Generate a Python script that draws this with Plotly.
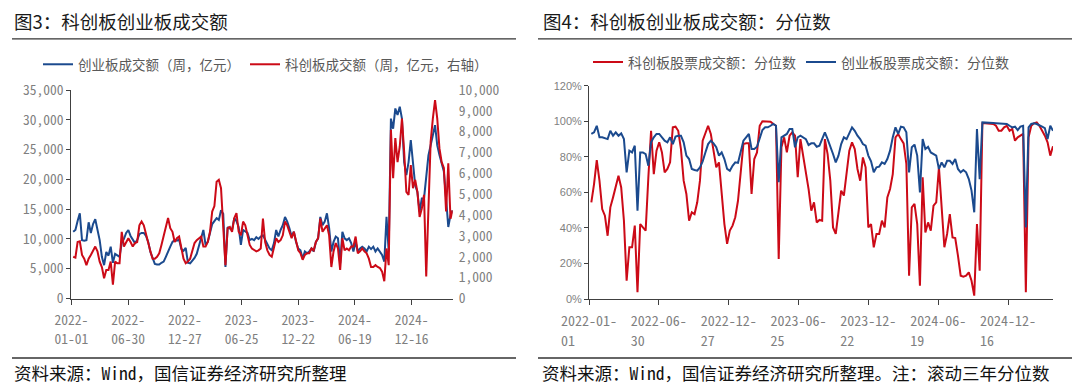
import pandas as pd
import plotly.graph_objects as go

# The page body has an 8px margin: the figure is sized to fit the 1080x392 window
OX, OY = 8, 8
W, H = 1080 - OX, 392 - OY

# ---------------- data ----------------
weeks = pd.date_range("2022-01-07", periods=173, freq="7D")

# 创业板成交额（周，亿元）
gem_turnover = [
    11200, 11500, 13000, 14300, 9800, 9700, 9800, 12800, 11000, 12500,
    13300, 11500, 9800, 7000, 5600, 7800, 7200, 8700, 6000, 7500,
    7300, 7000, 9300, 10000, 11000, 11500, 10500, 9800, 9300, 9800,
    10800, 11000, 11000, 10500, 9500, 7800, 6800, 5800, 5700, 5700,
    6000, 6200, 7000, 8000, 8700, 9500, 9800, 9700, 9900, 8300,
    8000, 8500, 6000, 5900, 6300, 6800, 7500, 9000, 10500, 11500,
    9000, 9500, 11000, 12500, 13000, 13500, 13200, 14800, 14200, 5300,
    12000, 11800, 11500, 13500, 13000, 12000, 9000, 11500, 11200, 11000,
    9800, 10000, 9800, 10300, 10000, 10400, 10600, 9800, 9000, 8400,
    8100, 9300, 11500, 10400, 11500, 12300, 13700, 12900, 11800, 10400,
    11200, 9500, 8400, 8100, 6700, 7900, 7600, 7900, 8400, 7900,
    9500, 10100, 13700, 12300, 12900, 14300, 11800, 7900, 9500, 10400,
    10100, 5900, 11200, 10100, 9800, 10100, 9300, 7900, 9500, 7900,
    8400, 8700, 8400, 7900, 8700, 8300, 8700, 7900, 8400, 7900,
    7300, 6200, 13700, 7900, 30200, 28500, 31900, 30800, 32200, 30200,
    22900, 20700, 22900, 26600, 22400, 19000, 17900, 14600, 16800, 16800,
    None, 24000, 25500, 27400, 29100, 25700, 24100, 22900, 21300, 16800,
    12000, 14000, 14800,
]

# 科创板成交额（周，亿元，右轴）
star_turnover = [
    2000, 1960, 2710, 2740, 2090, 1910, 1600, 1910, 2090, 2260,
    2490, 2260, 1770, 1510, 970, 1370, 1370, 1770, 660, 1770,
    1690, 1690, 3200, 2490, 2710, 2890, 2710, 2490, 2660, 2710,
    3510, 3690, 3510, 3110, 2570, 2260, 1910, 1910, 2000, 2170,
    2570, 3030, 3370, 3860, 3370, 3200, 2710, 2890, 2970, 2400,
    1910, 1690, 1770, 1910, 2260, 2660, 2800, 2890, 2970, 2490,
    2490, 2710, 3200, 4170, 4430, 5600, 5690, 5290, 3510, 1600,
    3370, 3430, 3200, 3860, 4090, 3200, 3030, 3690, 3510, 3110,
    2570, 2400, 2310, 2260, 2310, 2400, 3830, 2710, 2310, 2090,
    2000, 2400, 2890, 2710, 2800, 3030, 3690, 3510, 3200, 2890,
    3200, 2710, 2310, 2170, 1860, 2090, 2170, 2170, 2400, 2310,
    2710, 2890, 3830, 3200, 3370, 3510, 3030, 1510, 2260, 2660,
    2400, 1370, 2890, 2310, 2400, 2310, 2490, 2490, 2970, 2170,
    2260, 2400, 2260, 2170, 1910, 1510, 1510, 1600, 1510, 1460,
    1290, 830, 2400, 1600, 8090, 5770, 7690, 6540, 7290, 8630,
    7030, 5110, 4970, 6400, 5290, 5690, 5110, 3910, 4310, 4970,
    1060, 4630, 7510, 8630, 9510, 8630, 7200, 6540, 6260, 4170,
    6490, 3830, 4230,
]

# 科创板股票成交额：分位数 (%)
star_pct = [
    54.4, 64.7, 78.2, 66.6, 50.6, 46.9, 35.6, 51.6, 57.2, 62.8,
    69.4, 62.8, 44.1, 10.3, 29.1, 29.1, 41.3, 3.8, 42.2, 40.3,
    38.5, 68.5, 94.7, 70.3, 83.5, 88.2, 82.5, 71.3, 73.2, 76.9,
    96.6, 97.0, 94.7, 84.4, 66.6, 59.1, 44.1, 48.8, 47.8, 54.4,
    66.6, 89.1, 92.9, 97.5, 92.9, 83.5, 74.1, 76.9, 59.1, 42.2,
    31.0, 38.5, 41.3, 46.0, 55.3, 73.2, 87.2, 87.6, 87.6, 59.1,
    78.8, 82.5, 97.5, 100.0, 100.0, 100.0, 99.8, 98.5, 97.5, 22.5,
    85.4, 91.0, 82.5, 91.9, 93.8, 91.9, 68.5, 90.0, 80.7, 72.2,
    61.9, 49.7, 54.4, 43.1, 44.5, 44.1, 90.0, 81.6, 66.6, 40.3,
    36.6, 48.8, 61.0, 58.2, 72.2, 83.5, 88.2, 84.4, 73.2, 66.6,
    79.7, 74.1, 40.3, 42.2, 29.1, 36.6, 36.6, 44.1, 40.3, 57.2,
    61.9, 70.3, 91.0, 92.9, 90.0, 87.6, 76.0, 13.1, 51.6, 53.5,
    42.2, 7.5, 68.5, 37.5, 43.1, 38.5, 52.5, 54.4, 74.1, 49.7,
    29.1, 36.6, 47.8, 34.7, 34.3, 24.4, 13.1, 12.6, 13.1, 15.0,
    10.3, 1.9, 42.2, 15.9, 98.9, 98.9, 98.9, 98.5, 98.5, 97.5,
    94.7, 94.7, 96.6, 97.5, 94.7, 95.7, 89.1, 91.0, 91.9, 92.9,
    3.8, 91.0, 97.5, 98.9, 99.4, 97.5, 94.7, 91.9, 88.2, 80.7,
    86.0,
]

# 创业板股票成交额：分位数 (%)
gem_pct = [
    92.9, 93.8, 97.5, 91.0, 91.0, 90.6, 90.0, 94.7, 91.9, 93.8,
    91.9, 93.2, 90.0, 71.3, 83.5, 82.5, 86.3, 49.7, 82.5, 82.5,
    81.6, 75.0, 88.2, 91.0, 92.9, 92.9, 91.0, 89.1, 88.2, 91.0,
    87.2, 91.4, 91.9, 91.9, 88.2, 80.7, 78.8, 73.2, 72.6, 72.2,
    74.1, 77.5, 82.5, 87.2, 89.1, 87.6, 85.4, 80.7, 82.5, 78.8,
    73.2, 72.2, 75.0, 76.9, 76.6, 83.0, 89.1, 91.0, 92.9, 84.4,
    84.4, 85.7, 90.0, 95.1, 96.6, 96.6, 97.5, 98.5, 97.5, 65.7,
    91.0, 91.9, 92.9, 95.7, 95.7, 85.4, 91.0, 91.9, 91.0, 90.0,
    86.7, 87.6, 87.6, 85.7, 86.3, 90.0, 93.8, 90.0, 86.3, 81.6,
    76.9, 80.7, 87.2, 91.0, 90.0, 93.8, 96.6, 94.7, 91.9, 90.0,
    87.2, 86.3, 80.7, 77.5, 71.3, 74.1, 74.5, 76.9, 76.0, 78.8,
    83.5, 91.0, 96.6, 92.9, 97.0, 96.6, 93.8, 71.3, 85.4, 86.9,
    80.7, 60.0, 90.0, 84.4, 85.7, 82.5, 81.6, 80.7, 73.2, 76.9,
    74.1, 77.8, 77.8, 76.0, 78.8, 73.2, 71.3, 72.6, 71.3, 67.5,
    61.0, 48.8, 95.7, 67.5, 99.4, 99.4, 99.2, 99.0, 99.0, 98.9,
    98.9, 98.9, 98.7, 98.5, 97.5, 96.6, 97.0, 95.1, 97.0, 97.5,
    40.3, 96.6, 98.5, 98.9, 98.5, 97.5, 97.0, 96.2, 90.0, 97.5,
    94.7,
]
pct_weeks = weeks[:len(star_pct)]

tick_dates = ["2022-01-01", "2022-06-30", "2022-12-27", "2023-06-25",
              "2023-12-22", "2024-06-19", "2024-12-16"]
# two-line tick labels: first line / second line
left_tick_line1 = ["2022-", "2022-", "2022-", "2023-", "2023-", "2024-", "2024-"]
left_tick_line2 = ["01-01", "06-30", "12-27", "06-25", "12-22", "06-19", "12-16"]
right_tick_line1 = ["2022-01-", "2022-06-", "2022-12-", "2023-06-", "2023-12-", "2024-06-", "2024-12-"]
right_tick_line2 = ["01", "30", "27", "25", "22", "19", "16"]
NB = "\u00a0"
right_tick_line2 = [t + NB * 6 for t in right_tick_line2]  # left-aligned under line 1

BLUE = "#1b4a8e"
RED = "#cc0a17"
AX = "#404040"
TICK = "#7f7f7f"
MONO = "Noto Sans Mono CJK SC, Noto Sans CJK SC, Liberation Mono, monospace"
CJK = "Noto Sans CJK SC, sans-serif"


def fx(px):
    """window pixel x -> paper fraction"""
    return (px - OX) / W


def fy(py):
    """window pixel y (from top) -> paper fraction"""
    return 1 - (py - OY) / H


fig = go.Figure()
fig.add_trace(go.Scatter(x=weeks, y=gem_turnover, name="创业板成交额（周，亿元）",
                         mode="lines", line=dict(color=BLUE, width=2), connectgaps=True,
                         xaxis="x", yaxis="y", legend="legend"))
fig.add_trace(go.Scatter(x=weeks, y=star_turnover, name="科创板成交额（周，亿元，右轴）",
                         mode="lines", line=dict(color=RED, width=2),
                         xaxis="x", yaxis="y2", legend="legend"))
fig.add_trace(go.Scatter(x=pct_weeks, y=star_pct, name="科创板股票成交额：分位数",
                         mode="lines", line=dict(color=RED, width=2),
                         xaxis="x2", yaxis="y3", legend="legend2"))
fig.add_trace(go.Scatter(x=pct_weeks, y=gem_pct, name="创业板股票成交额：分位数",
                         mode="lines", line=dict(color=BLUE, width=2),
                         xaxis="x2", yaxis="y3", legend="legend2"))

common_x = dict(type="date", showgrid=False, zeroline=False, showline=True, automargin=False,
                linecolor=AX, linewidth=1, ticks="outside", ticklen=5, tickcolor=AX,
                tickmode="array", tickvals=tick_dates)
second_line_x = dict(type="date", showgrid=False, zeroline=False, showline=False,
                     automargin=False, ticks="", side="bottom",
                     tickmode="array", tickvals=tick_dates)

LEFT_RANGE = ["2022-01-01", "2025-04-25"]
RIGHT_RANGE = ["2022-01-01", "2025-04-11"]

fig.update_layout(
    template="none",
    width=W, height=H,
    margin=dict(l=0, r=0, t=0, b=0, pad=0, autoexpand=False),
    paper_bgcolor="white", plot_bgcolor="white",
    xaxis=dict(common_x, domain=[fx(71.3), fx(452.7)], anchor="y",
               range=LEFT_RANGE, ticktext=left_tick_line1, ticklabelstandoff=4,
               tickfont=dict(family=MONO, size=13.5, color=TICK)),
    xaxis3=dict(second_line_x, overlaying="x", anchor="y", range=LEFT_RANGE,
                ticktext=left_tick_line2, ticklabelstandoff=31,
                tickfont=dict(family=MONO, size=13.5, color=TICK)),
    yaxis=dict(domain=[fy(298.5), fy(90)], range=[0, 35000], dtick=5000, tickformat=",",
               showgrid=False, zeroline=False, showline=True, linecolor=AX, linewidth=1,
               ticks="outside", ticklen=4, tickcolor=AX, anchor="x", automargin=False,
               tickfont=dict(family=MONO, size=13.5, color=TICK)),
    yaxis2=dict(overlaying="y", side="right", anchor="x", range=[0, 10000], dtick=1000,
                tickformat=",", showgrid=False, zeroline=False, showline=False, ticks="",
                ticklabelstandoff=5, automargin=False,
                tickfont=dict(family=MONO, size=13.5, color=TICK)),
    xaxis2=dict(common_x, domain=[fx(589), fx(1053)], anchor="y3",
                range=RIGHT_RANGE, ticktext=right_tick_line1, ticklabelstandoff=4,
                tickfont=dict(family=MONO, size=14, color=TICK)),
    xaxis4=dict(second_line_x, overlaying="x2", anchor="y3", range=RIGHT_RANGE,
                ticktext=right_tick_line2, ticklabelstandoff=32,
                tickfont=dict(family=MONO, size=14, color=TICK)),
    yaxis3=dict(domain=[fy(299), fy(85.8)], anchor="x2", range=[0, 120], dtick=20,
                ticksuffix="%", showgrid=False, zeroline=False, showline=True, automargin=False,
                linecolor=AX, linewidth=1, ticks="outside", ticklen=4, tickcolor=AX,
                tickfont=dict(family="Liberation Sans, Arial, sans-serif", size=11, color=TICK)),
    legend=dict(orientation="h", x=fx(38), y=fy(64.5), xanchor="left", yanchor="middle",
                bgcolor="rgba(0,0,0,0)", font=dict(family=CJK, size=13.5, color="#595959"),
                itemwidth=30, tracegroupgap=0),
    legend2=dict(orientation="h", x=fx(588), y=fy(62.5), xanchor="left", yanchor="middle",
                 bgcolor="rgba(0,0,0,0)", font=dict(family=CJK, size=14, color="#595959"),
                 itemwidth=30, tracegroupgap=0),
    showlegend=True,
)

# the second-line axes need a (hidden) trace each so that plotly draws them
fig.add_trace(go.Scatter(x=[weeks[0]], y=[None], xaxis="x3", yaxis="y", showlegend=False,
                         hoverinfo="skip", mode="lines"))
fig.add_trace(go.Scatter(x=[weeks[0]], y=[None], xaxis="x4", yaxis="y3", showlegend=False,
                         hoverinfo="skip", mode="lines"))

annotations = [
    dict(text="图3：科创板创业板成交额", x=fx(12), y=fy(21), xanchor="left", yanchor="middle",
         font=dict(family=CJK, size=18.5, color="#1a1a1a")),
    dict(text="图4：科创板创业板成交额：分位数", x=fx(541), y=fy(21), xanchor="left", yanchor="middle",
         font=dict(family=CJK, size=18.5, color="#1a1a1a")),
    dict(text="资料来源：Wind，国信证券经济研究所整理", x=fx(12), y=fy(372), xanchor="left",
         yanchor="middle", font=dict(family=MONO, size=17.5, color="#111111")),
    dict(text="资料来源：Wind，国信证券经济研究所整理。注：滚动三年分位数", x=fx(540), y=fy(372),
         xanchor="left", yanchor="middle", font=dict(family=MONO, size=17.5, color="#111111")),
]
for a in annotations:
    a.update(xref="paper", yref="paper", showarrow=False)
fig.update_layout(annotations=annotations)

shapes = []
for (x0, x1) in [(12, 516), (538, 1078)]:
    for yy in (38.8, 358):
        shapes.append(dict(type="line", xref="paper", yref="paper",
                           x0=fx(x0), x1=fx(x1), y0=fy(yy), y1=fy(yy),
                           line=dict(color="#333333", width=1.3)))
fig.update_layout(shapes=shapes)

fig.write_html("out.html")
